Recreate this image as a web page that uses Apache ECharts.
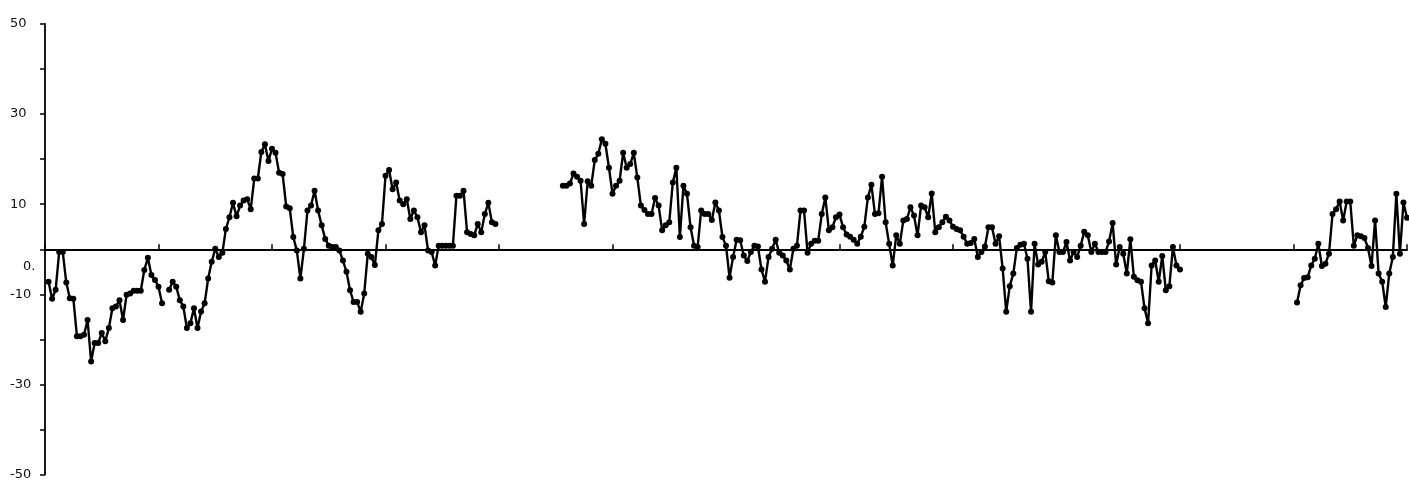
<!DOCTYPE html>
<html>
<head>
<meta charset="utf-8">
<script src="https://cdn.jsdelivr.net/npm/echarts@6/dist/echarts.min.js"></script>
<style>
html,body{margin:0;padding:0;background:#fff;}
#chart{width:1409px;height:481px;}
</style>
</head>
<body>
<div id="chart"></div>
<script>
// x axis: time index, 12 tick intervals of 32 steps each
const xMax = 384;
const xTickStep = 32;

// y axis tick labels
const yLabelValues = [50, 30, 10, 0, -10, -30, -50];
const yLabelTexts = ['50', '30', '10', '0.', '-10', '-30', '-50'];

// series segments (start index + values)
const seg1Start = 1;
const seg1 = [-7.2, -11.0, -9.0, -0.6, -0.6, -7.4, -10.9, -11.0, -19.3, -19.3, -19.0, -15.7, -24.9, -20.8, -20.8, -18.6, -20.4, -17.5, -13.1, -12.7, -11.3, -15.7, -10.1, -9.8, -9.2, -9.2, -9.2, -4.6, -1.9, -5.7, -6.8, -8.3, -12.0];

const seg2Start = 35;
const seg2 = [-9.0, -7.2, -8.3, -11.3, -12.7, -17.5, -16.4, -13.1, -17.5, -13.8, -12.0, -6.5, -2.8, 0.1, -1.7, -0.8, 4.5, 7.1, 10.3, 7.3, 9.7, 10.8, 11.1, 8.9, 15.7, 15.7, 21.6, 23.3, 19.6, 22.3, 21.4, 17.0, 16.7, 9.5, 9.1, 2.7, -0.3, -6.5, 0.1, 8.6, 9.7, 13.0, 8.6, 5.3, 2.3, 0.8, 0.5, 0.5, -0.3, -2.5, -5.0, -9.1, -11.7, -11.7, -13.9, -9.8, -1.0, -1.7, -3.5, 4.2, 5.6, 16.3, 17.6, 13.3, 14.8, 10.8, 10.0, 11.1, 6.7, 8.6, 7.1, 3.8, 5.3, -0.3, -0.6, -3.6, 0.8, 0.8, 0.8, 0.8, 0.8, 11.9, 11.9, 13.0, 3.8, 3.4, 3.1, 5.6, 3.8, 7.8, 10.3, 6.0, 5.6];

const seg3Start = 146;
const seg3 = [14.1, 14.1, 14.6, 16.8, 16.1, 15.2, 5.6, 15.1, 14.1, 19.8, 21.2, 24.4, 23.4, 18.1, 12.3, 14.1, 15.2, 21.4, 18.1, 18.9, 21.4, 15.9, 9.7, 8.7, 7.8, 7.8, 11.4, 9.7, 4.2, 5.3, 6.0, 14.8, 18.1, 2.7, 14.1, 12.3, 4.9, 0.8, 0.5, 8.6, 7.8, 7.8, 6.5, 10.4, 8.6, 2.7, 0.8, -6.3, -1.7, 2.1, 2.0, -1.4, -2.6, -0.6, 0.8, 0.6, -4.5, -7.2, -1.7, 0.1, 2.1,
  -0.8, -1.4, -2.5, -4.5, 0.1, 0.8, 8.6, 8.6, -0.8, 1.2, 1.9, 1.9, 7.8, 11.5, 4.2, 4.9, 7.1, 7.7, 4.9, 3.3, 2.8, 2.1, 1.2, 2.8, 5.0, 11.5, 14.3, 7.8, 8.0, 16.1, 6.0, 1.2, -3.6, 3.1, 1.2, 6.4, 6.7, 9.3, 7.5, 3.1, 9.7, 9.3, 7.1, 12.4, 3.8, 4.9, 6.0, 7.2, 6.4, 5.0, 4.5, 4.2, 2.8, 1.2, 1.4, 2.3, -1.7, -0.6, 0.6, 4.9, 4.9, 1.2,
  2.9, -4.3, -13.9, -8.2, -5.4, 0.3, 1.0, 1.2, -2.1, -13.9, 1.2, -3.4, -2.8, -0.6, -7.1, -7.4, 3.1, -0.6, -0.6, 1.6, -2.5, -0.6, -1.7, 0.8, 3.9, 3.1, -0.6, 1.2, -0.6, -0.6, -0.6, 1.7, 5.8, -3.4, 0.5, -1.0, -5.4, 2.2, -6.1, -6.9, -7.2, -13.1, -16.4, -3.6, -2.5, -7.2, -1.5, -9.1, -8.2, 0.5, -3.6, -4.5];

const seg4Start = 353;
const seg4 = [-11.8, -8.0, -6.4, -6.2, -3.6, -2.1, 1.2, -3.7, -3.2, -1.0, 7.8, 8.9, 10.6, 6.4, 10.6, 10.6, 0.8, 3.1, 2.9, 2.5, 0.3, -3.7, 6.4, -5.4, -7.2, -12.8, -5.4, -1.7, 12.3, -1.0, 10.4, 7.0];

// build the full series with gaps
const values = new Array(xMax + 1).fill('-');
[[seg1Start, seg1], [seg2Start, seg2], [seg3Start, seg3], [seg4Start, seg4]].forEach(function (s) {
  s[1].forEach(function (v, i) { values[s[0] + i] = v; });
});
const seriesData = values.map(function (v, i) { return [i, v]; });

const chart = echarts.init(document.getElementById('chart'), null, {renderer: 'canvas'});
chart.setOption({
  animation: false,
  backgroundColor: '#ffffff',
  grid: {left: 45, right: 2, top: 24, bottom: 4, containLabel: false},
  xAxis: {
    type: 'value',
    min: 0,
    max: xMax,
    interval: xTickStep,
    axisLine: {show: true, onZero: true, lineStyle: {color: '#000', width: 2}},
    axisTick: {show: true, inside: true, length: 5, lineStyle: {color: '#000', width: 1.5}},
    axisLabel: {show: false},
    splitLine: {show: false}
  },
  yAxis: {
    type: 'value',
    min: -50,
    max: 50,
    interval: 10,
    axisLine: {show: true, lineStyle: {color: '#000', width: 1.8}},
    axisTick: {show: true, length: 5, lineStyle: {color: '#000', width: 1.5}},
    splitLine: {show: false},
    axisLabel: {
      show: true,
      align: 'left',
      margin: 35,
      color: '#111',
      fontFamily: 'DejaVu Sans',
      fontSize: 13,
      formatter: function (v) {
        const k = yLabelValues.indexOf(v);
        if (k < 0) return '';
        if (v === 0) return '{z|' + yLabelTexts[k] + '}';
        return yLabelTexts[k];
      },
      rich: {
        z: {fontFamily: 'DejaVu Sans', fontSize: 13, color: '#111', padding: [34, 0, 0, 13]}
      }
    }
  },
  series: [{
    type: 'line',
    data: seriesData,
    connectNulls: false,
    showSymbol: true,
    showAllSymbol: true,
    symbol: 'circle',
    symbolSize: 6,
    lineStyle: {color: '#000', width: 2.4},
    itemStyle: {color: '#000'},
    emphasis: {disabled: true}
  }]
});
</script>
</body>
</html>
